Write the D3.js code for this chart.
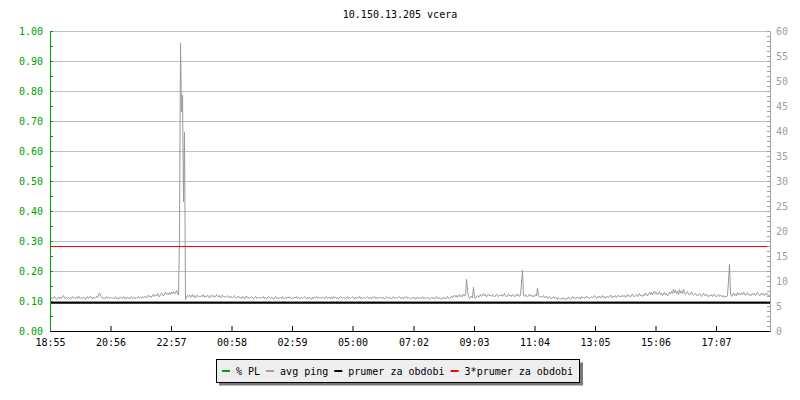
<!DOCTYPE html>
<html>
<head>
<meta charset="utf-8">
<script src="https://cdn.jsdelivr.net/npm/d3@7"></script>
<style>
  body { margin: 0; background: #fff; }
  text { font-family: "DejaVu Sans Mono", monospace; font-size: 10px; }
</style>
</head>
<body>
<script>
// ping graph for one host, 24h, 2 minute steps
const title = "10.150.13.205 vcera";
const stepMinutes = 2;

// avg ping in ms (one row = one hour)
const avgPing = [
  6.5,6.7,6.4,6.6,6.9,6.5,6.3,6.6,6.8,6.4,6.7,6.5,6.9,7.1,6.6,6.4,6.7,6.5,6.8,6.6,6.3,6.5,6.9,6.7,6.4,6.6,6.8,6.5,7.0,6.6,
  6.4,6.7,6.5,6.8,6.6,6.3,6.6,6.9,6.5,6.7,7.0,6.6,6.4,6.8,6.5,6.7,6.9,6.6,7.2,7.6,7.1,6.8,6.5,6.7,6.4,6.6,6.9,6.5,6.7,6.6,
  6.5,6.8,6.6,6.4,6.7,6.9,6.5,6.6,6.3,6.7,6.8,6.5,6.6,6.9,6.4,6.7,6.5,6.8,6.6,6.4,6.7,6.9,6.5,6.6,6.8,6.4,6.6,6.7,6.9,6.6,
  6.7,6.5,6.9,6.6,6.8,7.0,6.6,6.9,7.2,6.8,7.0,6.7,7.1,7.4,6.9,7.2,7.0,7.5,7.1,6.8,7.3,7.6,7.2,7.0,7.4,7.8,7.3,7.5,7.2,7.7,
  7.3,7.8,7.5,7.9,7.4,7.6,8.1,7.5,7.2,19.0,57.6,43.8,47.2,25.8,39.8,6.3,6.8,7.1,6.9,7.2,6.7,7.0,7.3,6.8,7.1,6.6,6.9,7.2,6.8,7.0,
  6.8,7.1,6.9,7.3,6.7,7.0,6.8,7.2,6.9,6.6,7.0,7.2,6.8,7.1,6.7,6.9,7.3,7.0,6.8,7.1,6.6,6.9,7.2,6.8,7.0,6.7,6.9,7.1,6.8,6.6,
  7.0,6.8,6.6,6.9,7.1,6.7,6.5,6.8,7.0,6.6,6.8,6.5,6.9,6.7,6.4,6.8,7.0,6.6,6.8,6.5,6.7,6.9,6.6,6.4,6.7,6.9,6.5,6.8,6.6,6.7,
  6.5,6.8,6.6,6.9,6.5,6.7,6.4,6.6,6.9,6.7,6.5,6.8,6.6,6.3,6.7,6.9,6.5,6.7,6.4,6.6,6.8,6.5,6.9,6.6,6.4,6.7,6.5,6.8,6.6,6.9,
  6.6,6.4,6.7,6.5,6.8,6.6,6.9,6.5,6.7,6.4,6.6,6.8,6.5,6.7,6.9,6.6,6.4,6.7,6.5,6.8,6.6,6.3,6.7,6.5,6.8,6.6,6.9,6.5,6.7,6.6,
  6.7,6.5,6.8,6.6,6.4,6.7,6.9,6.5,6.6,6.8,6.4,6.7,6.5,6.9,6.6,6.8,6.5,6.7,6.4,6.6,6.9,6.7,6.5,6.8,6.6,6.4,6.7,6.9,6.5,6.7,
  6.5,6.7,6.9,6.6,6.4,6.8,6.5,6.7,6.6,6.9,6.5,6.7,6.4,6.6,6.8,6.5,6.7,6.9,6.6,6.4,6.7,6.5,6.8,6.6,6.9,6.5,6.7,6.4,6.6,6.8,
  6.6,6.8,6.5,6.7,6.4,6.6,6.9,6.7,6.5,6.8,6.6,6.4,6.7,6.9,6.5,6.6,6.8,6.5,6.7,6.9,6.6,6.4,6.7,6.5,6.8,6.6,6.9,6.5,6.7,6.5,
  6.4,6.6,6.8,6.5,6.7,6.3,6.6,6.8,6.5,6.7,6.4,6.6,6.9,6.5,6.7,6.4,6.6,6.8,6.5,6.3,6.6,6.8,6.5,6.7,6.4,6.6,6.9,6.6,6.4,6.7,
  6.5,6.3,6.6,6.8,6.4,6.6,6.5,6.9,6.6,6.4,6.7,7.0,6.6,6.9,7.2,6.8,7.1,6.7,7.0,7.3,6.8,7.1,6.9,7.4,7.0,7.2,10.4,8.2,6.9,6.5,
  6.8,7.0,6.6,8.8,6.7,6.5,6.9,7.1,6.7,7.0,7.3,6.9,7.2,7.5,7.0,7.3,6.8,7.1,7.4,7.0,7.2,6.9,7.3,7.1,6.8,7.0,7.4,7.1,6.9,7.2,
  7.0,7.3,6.9,7.2,7.5,7.0,6.8,7.1,7.4,7.0,7.2,6.9,7.3,7.1,6.8,7.2,7.4,7.0,7.3,6.9,7.1,9.6,12.2,7.2,6.9,7.3,7.0,6.8,7.1,7.4,
  7.0,7.2,6.8,7.1,6.9,7.3,7.0,8.6,7.1,6.8,7.0,6.7,6.9,7.1,6.6,6.8,7.0,6.5,6.7,6.9,6.6,6.4,6.7,6.9,6.5,6.8,6.6,6.3,6.7,6.5,
  6.4,6.6,6.3,6.7,6.5,6.2,6.6,6.4,6.8,6.5,6.3,6.6,6.9,6.5,6.7,6.4,6.6,6.8,6.5,6.7,6.4,6.9,6.6,6.8,6.5,6.7,7.0,6.6,6.8,6.5,
  6.7,6.9,6.6,6.8,7.1,6.7,6.5,6.9,6.7,7.0,6.6,6.8,7.1,6.7,6.9,6.5,6.8,7.0,6.7,6.9,7.2,6.8,6.6,7.0,6.8,7.1,6.7,6.9,7.2,6.8,
  7.0,6.8,7.2,6.9,7.1,6.7,7.0,7.3,6.9,7.1,6.8,7.2,7.4,7.0,6.8,7.1,7.3,6.9,7.2,7.5,7.0,7.2,6.9,7.3,7.1,7.6,7.2,7.0,7.4,7.7,
  7.3,7.8,7.2,7.6,8.0,7.4,7.7,7.2,7.5,7.9,7.3,7.6,7.1,7.4,7.8,7.2,7.5,7.0,7.3,7.7,7.4,7.9,7.5,8.4,7.6,8.2,7.5,7.9,7.3,8.3,
  7.6,8.0,7.4,8.4,7.7,7.3,7.6,7.9,7.4,7.2,7.5,7.8,7.3,7.1,7.4,7.6,7.2,7.0,7.3,7.5,7.1,6.9,7.3,7.6,7.2,7.0,7.4,7.1,6.8,7.2,
  7.0,7.3,6.9,7.2,7.4,7.0,6.8,7.1,7.3,6.9,7.2,7.0,6.8,7.1,6.7,7.0,6.8,7.2,10.0,13.4,7.4,6.9,7.2,7.6,7.1,7.4,7.0,7.7,7.3,7.5,
  7.2,7.6,7.3,7.8,7.4,7.1,7.5,7.7,7.2,7.4,7.0,7.3,7.6,7.2,7.5,7.1,7.4,7.7,7.3,7.0,7.3,7.6,7.2,7.5,7.1,7.4,7.6,7.2,7.0,7.3
];

// packet loss in %, hourly (all zero that day)
const plHourly = [0, 0, 0, 0, 0, 0, 0, 0, 0, 0, 0, 0, 0, 0, 0, 0, 0, 0, 0, 0, 0, 0, 0, 0, 0];

const avgPeriod = 5.67;      // prumer za obdobi
const avgPeriod3 = 17.0;     // 3*prumer za obdobi

// x ticks: minutes from 18:55
const xTickMinutes = [0, 121, 242, 363, 484, 605, 727, 848, 969, 1090, 1211, 1332];
const xTickLabels = ["18:55", "20:56", "22:57", "00:58", "02:59", "05:00",
                     "07:02", "09:03", "11:04", "13:05", "15:06", "17:07"];

const leftTicks = [0, 0.1, 0.2, 0.3, 0.4, 0.5, 0.6, 0.7, 0.8, 0.9, 1.0];
const rightTicks = [0, 5, 10, 15, 20, 25, 30, 35, 40, 45, 50, 55, 60];

const legendItems = [
  {name: "% PL", color: "#00a000"},
  {name: "avg ping", color: "#a0a0a0"},
  {name: "prumer za obdobi", color: "#000000"},
  {name: "3*prumer za obdobi", color: "#ff0000"}
];

const W = 800, H = 400;
const plotL = 50, plotR = 770, plotT = 31, plotB = 331;
const green = "#00a000", grey = "#a0a0a0";

const svg = d3.select("body").append("svg")
  .attr("width", W).attr("height", H);

const x = d3.scaleLinear().domain([0, 1440]).range([plotL, plotR]);
const yL = d3.scaleLinear().domain([0, 1]).range([plotB, plotT]);
const yR = d3.scaleLinear().domain([0, 60]).range([plotB, plotT]);

// title
svg.append("text")
  .attr("x", 400).attr("y", 18)
  .attr("text-anchor", "middle")
  .attr("fill", "#000")
  .text(title);

// horizontal grid
svg.append("g").selectAll("line")
  .data(leftTicks.slice(1))
  .join("line")
  .attr("x1", plotL + 1).attr("x2", plotR)
  .attr("y1", d => yL(d) + 0.5).attr("y2", d => yL(d) + 0.5)
  .attr("stroke", "#c0c0c0");

// series
const plLine = d3.line()
  .x((d, i) => x(i * 60))
  .y(d => yL(d / 100) + 0.5);
svg.append("path")
  .datum(plHourly)
  .attr("d", plLine)
  .attr("fill", "none")
  .attr("stroke", green);

const pingLine = d3.line()
  .x((d, i) => x(i * stepMinutes) + 0.5)
  .y(d => yR(d));
svg.append("path")
  .datum(avgPing)
  .attr("d", pingLine)
  .attr("fill", "none")
  .attr("stroke", "#999999")
  .attr("stroke-width", 1);

svg.append("line")
  .attr("x1", plotL).attr("x2", plotR)
  .attr("y1", yR(avgPeriod)).attr("y2", yR(avgPeriod))
  .attr("stroke", "#000").attr("stroke-width", 2);

svg.append("line")
  .attr("x1", plotL).attr("x2", plotR)
  .attr("y1", Math.round(yR(avgPeriod3)) + 0.5).attr("y2", Math.round(yR(avgPeriod3)) + 0.5)
  .attr("stroke", "#ff0000").attr("stroke-width", 1);

// left axis (green): labels + small inner ticks
const leftMinor = d3.range(0, 21).map(i => i / 20);
const leftAx = svg.append("g")
  .attr("transform", `translate(${plotL},0)`)
  .call(d3.axisLeft(yL).tickValues(leftTicks).tickFormat(d3.format(".2f"))
    .tickSize(0).tickSizeOuter(0).tickPadding(7));
leftAx.select(".domain").attr("stroke", green);
leftAx.selectAll("text").attr("fill", green)
  .style("font-family", '"DejaVu Sans Mono", monospace').style("font-size", "10px");

svg.append("g")
  .attr("transform", `translate(${plotL},0)`)
  .call(d3.axisRight(yL).tickValues(leftMinor).tickFormat("").tickSize(3).tickSizeOuter(0))
  .call(g => g.select(".domain").remove())
  .selectAll("line").attr("stroke", green);

// right axis (grey)
const rightMinor = d3.range(0, 61);
const rightAx = svg.append("g")
  .attr("transform", `translate(${plotR},0)`)
  .call(d3.axisRight(yR).tickValues(rightTicks).tickSize(0).tickSizeOuter(0).tickPadding(6));
rightAx.select(".domain").attr("stroke", grey);
rightAx.selectAll("text").attr("fill", grey)
  .style("font-family", '"DejaVu Sans Mono", monospace').style("font-size", "10px");

svg.append("g")
  .attr("transform", `translate(${plotR},0)`)
  .call(d3.axisLeft(yR).tickValues(rightMinor).tickFormat("").tickSize(3).tickSizeOuter(0))
  .call(g => g.select(".domain").remove())
  .selectAll("line").attr("stroke", grey);

// x axis (black), ticks pointing up into the plot
const xAx = svg.append("g")
  .attr("transform", `translate(0,${plotB})`)
  .call(d3.axisBottom(x).tickValues(xTickMinutes)
    .tickFormat((d, i) => xTickLabels[i])
    .tickSize(0).tickSizeOuter(0).tickPadding(8));
xAx.select(".domain").attr("stroke", "#000");
xAx.selectAll("text").attr("fill", "#000")
  .style("font-family", '"DejaVu Sans Mono", monospace').style("font-size", "10px");

svg.append("g")
  .attr("transform", `translate(0,${plotB})`)
  .call(d3.axisTop(x).tickValues(xTickMinutes).tickFormat("").tickSize(5).tickSizeOuter(0))
  .call(g => g.select(".domain").remove())
  .selectAll("line").attr("stroke", "#000");

// left axis line on top of the x axis corner
svg.append("line")
  .attr("x1", plotL + 0.5).attr("x2", plotL + 0.5)
  .attr("y1", plotT).attr("y2", plotB)
  .attr("stroke", green);

// legend
const legend = svg.append("g");
legend.append("rect")
  .attr("x", 219).attr("y", 362.5)
  .attr("width", 364).attr("height", 23)
  .attr("fill", "#7a7a7a");
legend.append("rect")
  .attr("x", 216.5).attr("y", 359.5)
  .attr("width", 363).attr("height", 23)
  .attr("fill", "#eeeeee").attr("stroke", "#000");

let lx = 222;
legendItems.forEach(item => {
  legend.append("rect")
    .attr("x", lx).attr("y", 370)
    .attr("width", 8).attr("height", 2)
    .attr("fill", item.color);
  const t = legend.append("text")
    .attr("x", lx + 14).attr("y", 375)
    .attr("fill", "#000")
    .text(item.name);
  lx = lx + 14 + t.node().getComputedTextLength() + 6;
});
</script>
</body>
</html>
